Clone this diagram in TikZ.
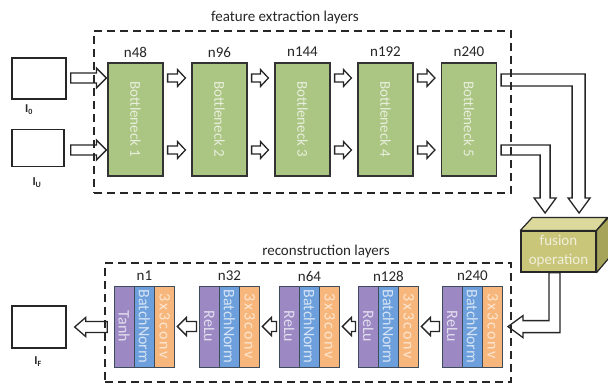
\documentclass[tikz,border=0pt]{standalone}
\usepackage{fontspec}
\setmainfont{Carlito}
\usepackage{graphicx}
\usetikzlibrary{calc}
\definecolor{bgreen}{HTML}{ABC583}
\definecolor{spurple}{HTML}{9C89C4}
\definecolor{sblue}{HTML}{6C9FDB}
\definecolor{sorange}{HTML}{F7B77C}
\definecolor{fusfront}{HTML}{C9C67A}
\definecolor{fustop}{HTML}{DCD99C}
\definecolor{fusside}{HTML}{A6A35A}
\definecolor{sedge}{HTML}{3E4B5A}
\newcommand\hollowR[5]{\draw[hollow] let \p1=(#1), \p2=(#2) in
  (\x1,\y1+#3) -- (\x2-#5,\y1+#3) -- (\x2-#5,\y1+#4) -- (\x2,\y1) --
  (\x2-#5,\y1-#4) -- (\x2-#5,\y1-#3) -- (\x1,\y1-#3) -- cycle;}
\newcommand\hollowL[5]{\draw[hollow] let \p1=(#1), \p2=(#2) in
  (\x1,\y1+#3) -- (\x2+#5,\y1+#3) -- (\x2+#5,\y1+#4) -- (\x2,\y1) --
  (\x2+#5,\y1-#4) -- (\x2+#5,\y1-#3) -- (\x1,\y1-#3) -- cycle;}
\begin{document}
\begin{tikzpicture}[x=1pt,y=-1pt,
  hollow/.style={draw=black!85, line width=1.3pt, line join=miter},
  imgbox/.style={draw=black!85, line width=1.3pt, fill=white, inner sep=0pt},
  lbl/.style={inner sep=0pt, text=black!85, font=\fontsize{15}{18}\selectfont},
  ilbl/.style={inner sep=0pt, text=black!85, font=\fontsize{12}{14}\selectfont\bfseries},
  bneck/.style={draw=black!80, line width=1.2pt, fill=bgreen, minimum width=55, minimum height=113, inner sep=0pt, text=white!72!bgreen, font=\fontsize{15}{18}\selectfont},
  strip/.style={draw=sedge, line width=1pt, minimum width=20.3, minimum height=81, inner sep=0pt, font=\fontsize{16}{18}\selectfont},
  dbox/.style={draw=black!85, line width=1.4pt, dash pattern=on 8pt off 5pt, inner sep=0pt},
  fusion/.style={draw=black!85, line width=1.2pt, fill=fusfront, minimum width=75, minimum height=41, inner sep=0pt, align=center, text=white!72!fusfront, font=\fontsize{15}{19}\selectfont},
  fusface/.style={draw=black!85, line width=1.2pt, line join=round}]
\fill[white] (0,0) rectangle (608,385);
\useasboundingbox (0,0) rectangle (608,385);
\coordinate (row1) at (0,78);
\coordinate (row2) at (0,150);
% dashed frames and titles
\node[dbox, minimum width=417, minimum height=162] (febox) at (302.5,112) {};
\node[dbox, minimum width=406, minimum height=119] (recbox) at (308,322.5) {};
\node[lbl] (fet) at (285,18) {feature extraction layers};
\node[lbl] (rct) at (326,251) {reconstruction layers};
% image boxes
\node[imgbox, minimum width=54, minimum height=41] (I0) at (39,78.5) {};
\node[imgbox, minimum width=52, minimum height=37] (Iu) at (38,148) {};
\node[imgbox, minimum width=54, minimum height=42] (IF) at (39,327) {};
\node[ilbl] (I0l) at (29,110) {I\textsubscript{0}};
\node[ilbl] (Iul) at (37,183) {I\textsubscript{U}};
\node[ilbl] (IFl) at (38,362) {I\textsubscript{F}};
% bottlenecks
\foreach \i/\cx/\n in {1/135.5/n48, 2/219.5/n96, 3/302.5/n144, 4/385.5/n192, 5/469/n240}{
  \node[bneck] (B\i) at (\cx,119.5) {\rotatebox{-90}{Bottleneck \i}};
  \node[lbl] (Bl\i) at (\cx,52) {\n};
}
% reconstruction groups
\foreach \g/\xs/\n/\f in {1/114/n1/Tanh, 2/199/n32/ReLu, 3/279/n64/ReLu, 4/358/n128/ReLu, 5/442/n240/ReLu}{
  \node[strip, fill=spurple, text=white!72!spurple] (Ga\g) at (\xs+10.15,326.5) {\rotatebox{-90}{\f}};
  \node[strip, fill=sblue, text=white!72!sblue] (Gb\g) at (\xs+30.45,326.5) {\rotatebox{-90}{BatchNorm}};
  \node[strip, fill=sorange, text=white!65!sorange] (Gc\g) at (\xs+50.75,326.5) {\rotatebox{-90}{\addfontfeature{LetterSpace=12}3x3conv}};
  \node[lbl] (Gl\g) at (\xs+30.45,276) {\n};
}
% fusion block
\node[fusion] (fus) at (558.5,251.5) {fusion\\operation};
\draw[fusface, fill=fustop] (fus.north west) -- ++(12,-13) -- ++(75,0) -- (fus.north east) -- cycle;
\draw[fusface, fill=fusside] (fus.north east) -- ++(12,-13) -- ++(0,41) -- (fus.south east) -- cycle;
% input arrows
\hollowR{$(I0.east|-row1)+(4,0)$}{$(B1.west)+(-1,0)$}{5pt}{10pt}{10pt}
\hollowR{$(Iu.east|-row2)+(6,0)$}{$(B1.west)+(-1,0)$}{5pt}{10pt}{10pt}
% between bottlenecks
\foreach \a/\b in {1/2,2/3,3/4,4/5}{
  \hollowR{$(B\a.east|-row1)+(4,0)$}{$(B\b.west)+(-6,0)$}{4pt}{8.5pt}{8pt}
  \hollowR{$(B\a.east|-row2)+(4,0)$}{$(B\b.west)+(-6,0)$}{4pt}{8.5pt}{8pt}
}
% bent arrows to fusion
\draw[hollow] ([shift={(4,-45.5)}]B5.east) -- ++(84,0) -- ++(0,124) -- ++(5,0) -- ++(-11,15) -- ++(-11,-15) -- ++(4,0) -- ++(0,-112) -- ++(-71,0) -- cycle;
\draw[hollow] ([shift={(4,25.5)}]B5.east) -- ++(49,0) -- ++(0,53) -- ++(6,0) -- ++(-11,15) -- ++(-11,-15) -- ++(6,0) -- ++(0,-43) -- ++(-39,0) -- cycle;
% fusion to reconstruction
\draw[hollow] ([xshift=-9.5]fus.south) -- ++(0,48) -- ++(-26,0) -- ++(0,-5) -- ++(-15,11) -- ++(15,11) -- ++(0,-5) -- ++(37,0) -- ++(0,-60) -- cycle;
% between groups
\foreach \a/\b in {2/1,3/2,4/3,5/4}{
  \hollowL{$(Ga\a.west)+(-2,0)$}{$(Gc\b.east)+(2,0)$}{5pt}{9pt}{9pt}
}
% output
\hollowL{$(recbox.west|-IF.east)+(3,0)$}{$(IF.east)+(8,0)$}{5.5pt}{9.5pt}{11pt}
\end{tikzpicture}
\end{document}
